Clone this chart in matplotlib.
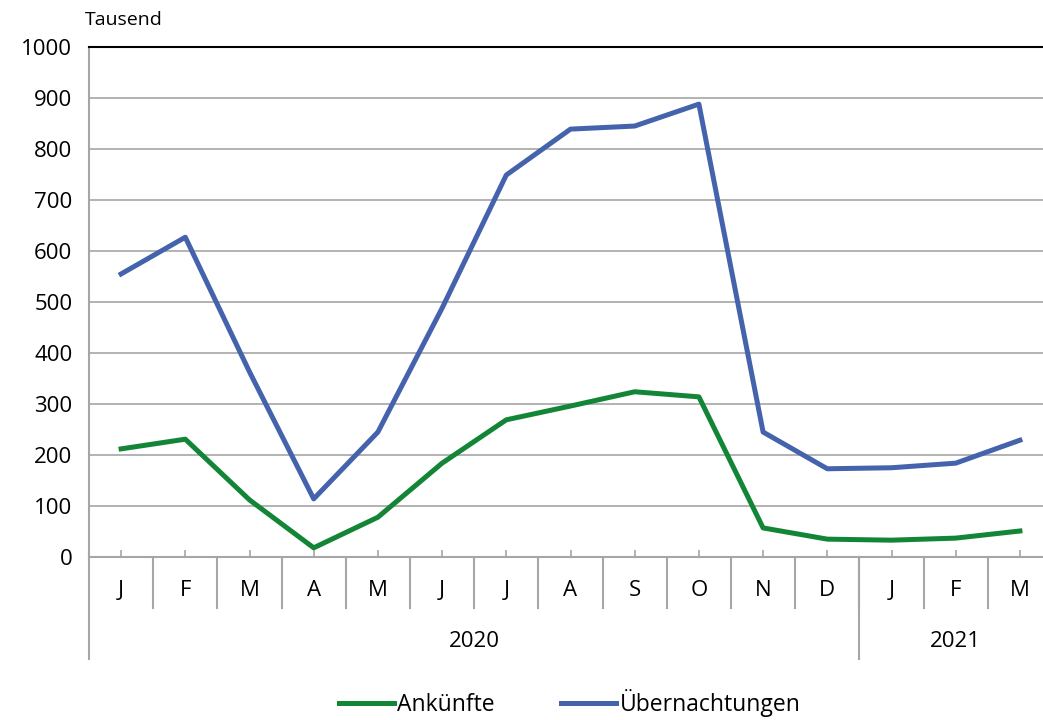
import numpy as np
from matplotlib import pyplot as plt

months = ["J", "F", "M", "A", "M", "J", "J", "A", "S", "O", "N", "D", "J", "F", "M"]
years = ["2020", "2021"]
year_spans = [(0, 12), (12, 15)]

ankuenfte = [212, 231, 112, 18, 78, 184, 269, 296, 324, 314, 57, 35, 33, 37, 51]
uebernachtungen = [555, 627, 363, 114, 245, 488, 749, 839, 845, 888, 245, 173, 175, 184, 229]

green = "#138536"
blue = "#4563AC"
gray = "#A6A6A6"

plt.rcParams["font.family"] = ["Open Sans", "DejaVu Sans"]

fig = plt.figure(figsize=(10.43, 7.2), dpi=100)
ax = fig.add_axes([89 / 1043, 163 / 720, 963 / 1043, 510 / 720])

x = np.arange(len(months))
ax.plot(x, ankuenfte, color=green, lw=3.6, label="Ankünfte", solid_joinstyle="round")
ax.plot(x, uebernachtungen, color=blue, lw=3.6, label="Übernachtungen", solid_joinstyle="round")

ax.set_xlim(-0.5, len(months) - 0.5)
ax.set_ylim(0, 1000)
ax.set_yticks(range(0, 1001, 100))
ax.tick_params(axis="y", length=0, labelsize=16, pad=12)
ax.grid(axis="y", color=gray, lw=1.2)
ax.set_axisbelow(True)

ax.set_xticks(x)
ax.set_xticklabels([])
ax.tick_params(axis="x", direction="in", length=5, color=gray, width=1.2)

ax.spines["right"].set_visible(False)
ax.spines["top"].set_color("black")
ax.spines["top"].set_linewidth(1.5)
ax.spines["left"].set_color(gray)
ax.spines["left"].set_linewidth(1.5)
ax.spines["bottom"].set_color(gray)
ax.spines["bottom"].set_linewidth(1.5)

# month labels and separators under the axis
tr = ax.get_xaxis_transform()
for i, m in enumerate(months):
    ax.text(i, -0.065, m, transform=tr, ha="center", va="center", fontsize=16)
    if i > 0:
        ax.plot([i - 0.5, i - 0.5], [0, -0.1], transform=tr, color=gray, lw=1.5, clip_on=False)

# year level
for (a, b), yr in zip(year_spans, years):
    ax.plot([a - 0.5, a - 0.5], [0, -0.2], transform=tr, color=gray, lw=1.5, clip_on=False)
    ax.text((a + b - 1) / 2, -0.165, yr, transform=tr, ha="center", va="center", fontsize=16)

fig.text(85 / 1043, 1 - 20 / 720, "Tausend", fontsize=14, va="center", ha="left")

fig.legend(loc="center", bbox_to_anchor=(0.546, 1 - 703 / 720), ncol=2, frameon=False,
           fontsize=16.5, handlelength=2.4, handletextpad=0.15, columnspacing=2.9)

fig.savefig("out.png", dpi=100)
